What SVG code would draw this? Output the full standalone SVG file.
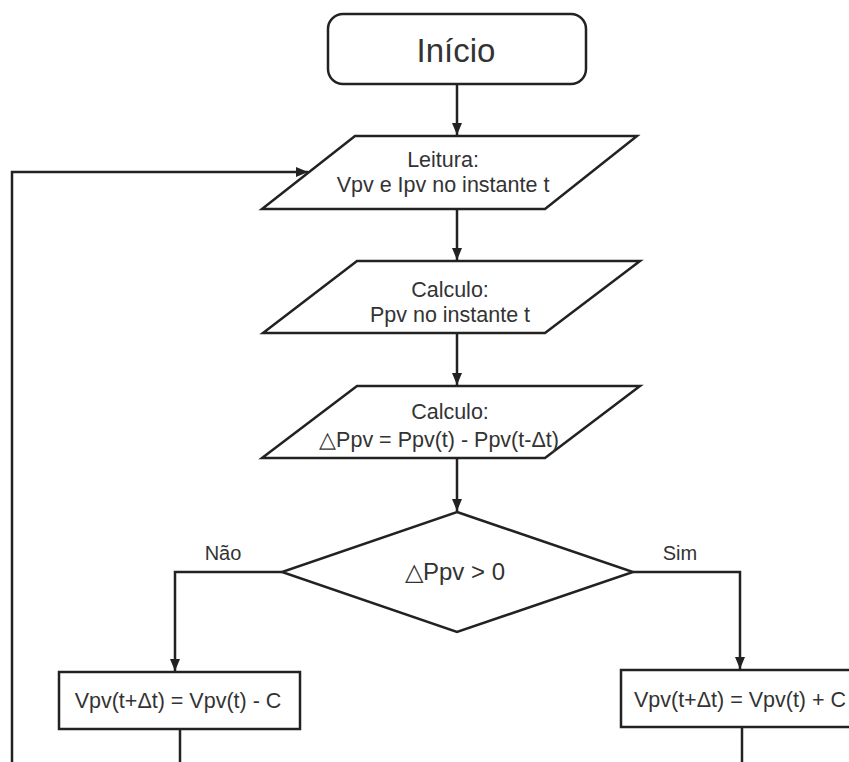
<svg xmlns="http://www.w3.org/2000/svg" width="849" height="762" viewBox="0 0 849 762">
<style>
.s{fill:#fff;stroke:#222;stroke-width:2.5}
.c{fill:none;stroke:#222;stroke-width:2.5}
.t{font-family:"Liberation Sans",Arial,sans-serif;fill:#333;text-anchor:middle;font-size:21.5px}
</style>
<defs>
<marker id="a" viewBox="0 0 12 10" refX="12" refY="5" markerWidth="12" markerHeight="10" markerUnits="userSpaceOnUse" orient="auto">
<path d="M0,0 L12,5 L0,10 Z" fill="#222"/>
</marker>
</defs>
<rect width="849" height="762" fill="#fff"/>
<g id="connectors">
<line class="c" x1="457" y1="84" x2="457" y2="135" marker-end="url(#a)"/>
<line class="c" x1="457" y1="209" x2="457" y2="260" marker-end="url(#a)"/>
<line class="c" x1="457" y1="333" x2="457" y2="385" marker-end="url(#a)"/>
<line class="c" x1="457" y1="458" x2="457" y2="511" marker-end="url(#a)"/>
<polyline class="c" points="282,572 175,572 175,671" marker-end="url(#a)"/>
<polyline class="c" points="633,572 740,572 740,669" marker-end="url(#a)"/>
<line class="c" x1="180" y1="729" x2="180" y2="762"/>
<line class="c" x1="742" y1="727" x2="742" y2="762"/>
<polyline class="c" points="12,762 12,172 308,172" marker-end="url(#a)"/>
<text class="t" x="223" y="560" style="font-size:20px">Não</text>
<text class="t" x="680" y="560" style="font-size:20px">Sim</text>
</g>
<g id="inicio">
<rect class="s" x="328" y="14" width="258" height="70" rx="15"/>
<text class="t" x="456" y="62" style="font-size:33px">Início</text>
</g>
<g id="leitura">
<polygon class="s" points="355,136 637,136 545,209 262,209"/>
<text class="t" x="443" y="167">Leitura:</text>
<text class="t" x="443" y="192">Vpv e Ipv no instante t</text>
</g>
<g id="calculo1">
<polygon class="s" points="357,261 640,261 545,333 263,333"/>
<text class="t" x="450" y="297">Calculo:</text>
<text class="t" x="450" y="322">Ppv no instante t</text>
</g>
<g id="calculo2">
<polygon class="s" points="357,386 640,386 545,458 262,458"/>
<text class="t" x="450" y="419">Calculo:</text>
<text class="t" x="439" y="447">△Ppv = Ppv(t) - Ppv(t-Δt)</text>
</g>
<g id="decisao">
<polygon class="s" points="457,512 633,572 457,632 282,572"/>
<text class="t" x="455" y="580" style="font-size:24px">△Ppv &gt; 0</text>
</g>
<g id="menos">
<rect class="s" x="59" y="672" width="241" height="57"/>
<text class="t" x="178" y="708">Vpv(t+Δt) = Vpv(t) - C</text>
</g>
<g id="mais">
<rect class="s" x="621" y="670" width="240" height="57"/>
<text class="t" x="740" y="707">Vpv(t+Δt) = Vpv(t) + C</text>
</g>
</svg>
